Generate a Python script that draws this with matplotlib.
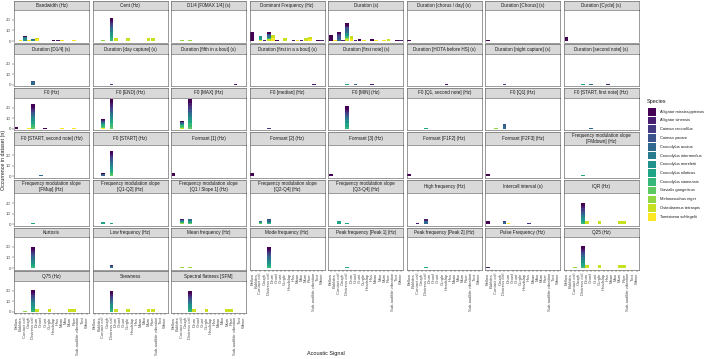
import matplotlib.pyplot as plt
from matplotlib.patches import Rectangle
import numpy as np

plt.rcParams['font.family'] = ['Liberation Sans', 'DejaVu Sans']

species = ['Alligator mississippiensis', 'Alligator sinensis', 'Caiman crocodilus',
           'Caiman yacare', 'Crocodylus acutus', 'Crocodylus intermedius',
           'Crocodylus moreletii', 'Crocodylus niloticus', 'Crocodylus siamensis',
           'Gavialis gangeticus', 'Melanosuchus niger', 'Osteolaemus tetraspis',
           'Tomistoma schlegelii']

signals = ['Bellow', 'Bubbles', 'Contact call', 'Cough', 'Distress call', 'Drum',
           'Growl', 'Grunt', 'Gurgle', 'Headslap', 'Hiss', 'Moan', 'Moo', 'Mum',
           'Roar', 'Sub-audible vibration', 'Toot', 'Whine']

facets = ['Bandwidth (Hz)', 'Cent (Hz)', 'D1/4 [F0MAX 1/4] (s)', 'Dominant Frequency (Hz)',
          'Duration (s)', 'Duration [chorus / day] (s)', 'Duration [Chorus] (s)',
          'Duration [Cycle] (s)', 'Duration [D1/4] (s)', 'Duration [day capture] (s)',
          'Duration [fifth in a bout] (s)', 'Duration [first in a a bout] (s)',
          'Duration [first note] (s)', 'Duration [HOTA before HS] (s)',
          'Duration [night capture] (s)', 'Duration [second note] (s)',
          'F0 (Hz)', 'F0 [END] (Hz)', 'F0 [MAX] (Hz)', 'F0 [median] (Hz)', 'F0 [MIN] (Hz)',
          'F0 [Q1, second note] (Hz)', 'F0 [Q1] (Hz)', 'F0 [START, first note] (Hz)',
          'F0 [START, second note] (Hz)', 'F0 [START] (Hz)', 'Formant [1] (Hz)',
          'Formant [2] (Hz)', 'Formant [3] (Hz)', 'Formant [F1F2] (Hz)', 'Formant [F2F3] (Hz)',
          'Frequency modulation slope\n[FMdown] (Hz)', 'Frequency modulation slope\n[FMup] (Hz)',
          'Frequency modulation slope\n[Q1-Q2] (Hz)', 'Frequency modulation slope\n[Q1 / Slope 1] (Hz)',
          'Frequency modulation slope\n[Q2-Q4] (Hz)', 'Frequency modulation slope\n[Q3-Q4] (Hz)',
          'High frequency (Hz)', 'Intercall interval (s)', 'IQR (Hz)', 'Kurtosis',
          'Low frequency (Hz)', 'Mean frequency (Hz)', 'Mode frequency (Hz)',
          'Peak frequency [Peak 1] (Hz)', 'Peak frequency [Peak 2] (Hz)',
          'Pulse Frequency (Hz)', 'Q25 (Hz)', 'Q75 (Hz)', 'Skewness', 'Spectral flatness [SFM]']

# (facet index, signal index, species index, count)
bars = [
    # Bandwidth
    (0, 1, 12, 1), (0, 2, 0, 1), (0, 2, 5, 1), (0, 2, 6, 3), (0, 3, 12, 1), (0, 4, 4, 1),
    (0, 4, 6, 1), (0, 5, 11, 1), (0, 5, 12, 2), (0, 9, 0, 1), (0, 10, 1, 1), (0, 11, 12, 1),
    (0, 14, 12, 1),
    # Cent
    (1, 2, 10, 1), (1, 4, 0, 3), (1, 4, 1, 2), (1, 4, 2, 2), (1, 4, 3, 2), (1, 4, 4, 2),
    (1, 4, 5, 2), (1, 4, 6, 3), (1, 4, 7, 3), (1, 4, 8, 3), (1, 5, 11, 3), (1, 8, 11, 3),
    (1, 13, 11, 3), (1, 14, 11, 3),
    # D1/4
    (2, 2, 10, 1), (2, 4, 10, 1),
    # Dominant Frequency
    (3, 0, 0, 9), (3, 2, 6, 2), (3, 2, 7, 2), (3, 2, 11, 1), (3, 3, 1, 1), (3, 4, 0, 2),
    (3, 4, 3, 2), (3, 4, 5, 2), (3, 4, 8, 1), (3, 4, 11, 2), (3, 5, 11, 3), (3, 5, 12, 3),
    (3, 6, 0, 1), (3, 8, 11, 3), (3, 10, 1, 1), (3, 11, 12, 1), (3, 12, 1, 1), (3, 13, 11, 3),
    (3, 14, 11, 2), (3, 14, 12, 2), (3, 16, 0, 1), (3, 17, 1, 1),
    # Duration
    (4, 0, 0, 6), (4, 1, 12, 1), (4, 2, 0, 2), (4, 2, 2, 2), (4, 2, 3, 3), (4, 2, 4, 2),
    (4, 3, 1, 1), (4, 4, 0, 3), (4, 4, 1, 1), (4, 4, 3, 3), (4, 4, 4, 2), (4, 4, 6, 3),
    (4, 4, 8, 2), (4, 4, 10, 1), (4, 4, 11, 2), (4, 5, 11, 3), (4, 5, 12, 2), (4, 6, 1, 1),
    (4, 7, 0, 2), (4, 8, 12, 1), (4, 10, 0, 2), (4, 11, 12, 1), (4, 13, 12, 1), (4, 14, 11, 2),
    (4, 16, 0, 1), (4, 17, 1, 1),
    # Duration [chorus / day], [Chorus], [Cycle]
    (5, 0, 0, 1), (6, 0, 0, 1), (7, 0, 0, 4),
    # Duration [D1/4] ... [second note]
    (8, 4, 3, 1), (8, 4, 4, 3), (9, 4, 2, 1), (10, 15, 1, 1), (11, 15, 1, 1),
    (12, 4, 7, 1), (12, 6, 4, 1), (12, 10, 1, 1), (13, 9, 1, 1), (14, 4, 2, 1),
    (15, 4, 7, 1), (15, 6, 4, 1), (15, 10, 1, 1),
    # F0
    (16, 0, 0, 2), (16, 3, 12, 1), (16, 4, 0, 3), (16, 4, 1, 2), (16, 4, 2, 2), (16, 4, 3, 2),
    (16, 4, 4, 2), (16, 4, 5, 2), (16, 4, 6, 3), (16, 4, 7, 3), (16, 4, 8, 2), (16, 4, 9, 2),
    (16, 7, 0, 1), (16, 11, 12, 1), (16, 14, 12, 1),
    # F0 [END]
    (17, 2, 0, 1), (17, 2, 1, 1), (17, 2, 3, 1), (17, 2, 4, 1), (17, 2, 6, 1), (17, 2, 7, 1),
    (17, 2, 8, 1), (17, 2, 9, 1), (17, 2, 12, 1),
    (17, 4, 0, 4), (17, 4, 1, 3), (17, 4, 2, 2), (17, 4, 3, 3), (17, 4, 4, 2), (17, 4, 5, 3),
    (17, 4, 6, 3), (17, 4, 7, 3), (17, 4, 8, 3), (17, 4, 9, 2),
    # F0 [MAX]
    (18, 2, 0, 1), (18, 2, 3, 1), (18, 2, 4, 1), (18, 2, 6, 1), (18, 2, 8, 1), (18, 2, 9, 1),
    (18, 2, 11, 1),
    (18, 4, 0, 4), (18, 4, 1, 3), (18, 4, 2, 2), (18, 4, 3, 3), (18, 4, 4, 2), (18, 4, 5, 3),
    (18, 4, 6, 3), (18, 4, 7, 3), (18, 4, 8, 3), (18, 4, 9, 2),
    # F0 [median], [MIN]
    (19, 4, 2, 1),
    (20, 4, 0, 3), (20, 4, 1, 2), (20, 4, 2, 2), (20, 4, 3, 2), (20, 4, 4, 2), (20, 4, 5, 2),
    (20, 4, 6, 3), (20, 4, 7, 3), (20, 4, 8, 2),
    # F0 [Q1, second note], [Q1], [START, first note], [START, second note]
    (21, 4, 7, 1), (22, 2, 10, 1), (22, 4, 3, 1), (22, 4, 4, 3), (23, 6, 4, 1), (24, 6, 4, 1),
    # F0 [START]
    (25, 2, 0, 1), (25, 2, 3, 1), (25, 2, 4, 1),
    (25, 4, 0, 3), (25, 4, 1, 2), (25, 4, 2, 2), (25, 4, 3, 2), (25, 4, 4, 2), (25, 4, 5, 3),
    (25, 4, 6, 3), (25, 4, 7, 3), (25, 4, 8, 2), (25, 4, 9, 2),
    # Formants
    (26, 0, 0, 3), (27, 0, 0, 3), (28, 0, 0, 2), (29, 0, 0, 2), (30, 0, 0, 2),
    # Frequency modulation slopes
    (31, 4, 7, 1), (32, 4, 7, 1), (33, 2, 7, 2), (33, 4, 7, 1),
    (34, 2, 1, 1), (34, 2, 4, 1), (34, 2, 6, 1), (34, 2, 8, 1), (34, 2, 10, 1),
    (34, 4, 4, 1), (34, 4, 5, 1), (34, 4, 7, 2), (34, 4, 9, 1),
    (35, 2, 4, 1), (35, 2, 7, 1), (35, 2, 9, 1), (35, 4, 3, 1), (35, 4, 4, 2), (35, 4, 6, 1),
    (35, 4, 8, 1),
    (36, 2, 7, 3), (36, 4, 7, 1),
    # High frequency, Intercall interval
    (37, 2, 1, 1), (37, 4, 1, 2), (37, 4, 4, 3),
    (38, 0, 0, 3), (38, 4, 2, 1), (38, 4, 4, 2), (38, 5, 12, 1), (38, 10, 2, 1),
    # IQR
    (39, 4, 0, 3), (39, 4, 1, 2), (39, 4, 2, 2), (39, 4, 3, 2), (39, 4, 4, 2), (39, 4, 5, 2),
    (39, 4, 6, 3), (39, 4, 7, 2), (39, 4, 8, 2), (39, 5, 11, 3), (39, 8, 11, 3),
    (39, 13, 11, 3), (39, 14, 11, 3),
    # Kurtosis
    (40, 4, 0, 3), (40, 4, 1, 2), (40, 4, 2, 2), (40, 4, 3, 2), (40, 4, 4, 2), (40, 4, 5, 2),
    (40, 4, 6, 3), (40, 4, 7, 2), (40, 4, 8, 2),
    # Low frequency, Mean frequency
    (41, 4, 1, 1), (41, 4, 4, 2), (42, 2, 10, 1), (42, 4, 10, 1),
    # Mode frequency
    (43, 4, 0, 3), (43, 4, 1, 2), (43, 4, 2, 2), (43, 4, 3, 2), (43, 4, 4, 2), (43, 4, 5, 2),
    (43, 4, 6, 3), (43, 4, 7, 2), (43, 4, 8, 2),
    # Peak frequencies, Pulse frequency
    (44, 4, 7, 1), (45, 4, 7, 1), (46, 0, 1, 1),
    # Q25
    (47, 2, 10, 1), (47, 4, 0, 3), (47, 4, 1, 2), (47, 4, 2, 2), (47, 4, 3, 2), (47, 4, 4, 2),
    (47, 4, 5, 2), (47, 4, 6, 3), (47, 4, 7, 3), (47, 4, 8, 2), (47, 5, 11, 3), (47, 8, 11, 3),
    (47, 13, 11, 3), (47, 14, 11, 3),
    # Q75
    (48, 2, 10, 1), (48, 4, 0, 3), (48, 4, 1, 2), (48, 4, 2, 2), (48, 4, 3, 2), (48, 4, 4, 2),
    (48, 4, 5, 2), (48, 4, 6, 3), (48, 4, 7, 3), (48, 4, 8, 2), (48, 5, 11, 3), (48, 8, 11, 3),
    (48, 13, 11, 3), (48, 14, 11, 3),
    # Skewness
    (49, 4, 0, 3), (49, 4, 1, 2), (49, 4, 2, 2), (49, 4, 3, 2), (49, 4, 4, 2), (49, 4, 5, 2),
    (49, 4, 6, 3), (49, 4, 7, 2), (49, 4, 8, 2), (49, 5, 11, 3), (49, 8, 11, 3),
    (49, 13, 11, 3), (49, 14, 11, 3),
    # Spectral flatness
    (50, 4, 0, 3), (50, 4, 1, 2), (50, 4, 2, 2), (50, 4, 3, 2), (50, 4, 4, 2), (50, 4, 5, 2),
    (50, 4, 6, 3), (50, 4, 7, 2), (50, 4, 8, 2), (50, 5, 11, 3), (50, 8, 11, 3),
    (50, 13, 11, 3), (50, 14, 11, 3),
]

W, H = 709, 359
fig = plt.figure(figsize=(W / 100, H / 100), dpi=100)


def box(x, y, w, h):
    # pixel box (top-left origin) -> figure fraction
    return [x / W, 1 - (y + h) / H, w / W, h / H]


colors = plt.cm.viridis(np.linspace(0, 1, len(species)))
edge = '#4d4d4d'

ncol = 8
nrow = (len(facets) + ncol - 1) // ncol
left, pw, gap_x = 14, 75, 3.57
top, strip1, strip2, ph, gap_y = 0.5, 9.5, 13.5, 32.5, 1.8
ymax = 28
n_sig = len(signals)

counts = np.zeros((len(facets), n_sig, len(species)))
for f, s, sp, n in bars:
    counts[f, s, sp] += n

y = top
for r in range(nrow):
    row = list(range(r * ncol, min((r + 1) * ncol, len(facets))))
    sh = strip2 if any('\n' in facets[i] for i in row) else strip1
    for i in row:
        c = i % ncol
        x = left + c * (pw + gap_x)
        # strip
        sax = fig.add_axes(box(x, y, pw, sh))
        sax.set_facecolor('#d9d9d9')
        sax.set_xticks([])
        sax.set_yticks([])
        for sp_ in sax.spines.values():
            sp_.set_color(edge)
            sp_.set_linewidth(0.4)
        sax.text(0.5, 0.5, facets[i], ha='center', va='center', fontsize=3.3,
                 color='#1a1a1a', linespacing=1.1, transform=sax.transAxes)
        # panel
        ax = fig.add_axes(box(x, y + sh, pw, ph))
        xs = np.arange(n_sig)
        bottom = np.zeros(n_sig)
        for k in range(len(species) - 1, -1, -1):
            h = counts[i, :, k]
            if h.sum() > 0:
                ax.bar(xs, h, bottom=bottom, width=0.9, color=colors[k], linewidth=0)
            bottom += h
        ax.set_xlim(-0.6, n_sig - 0.4)
        ax.set_ylim(-0.05 * ymax, 1.05 * ymax)
        for sp_ in ax.spines.values():
            sp_.set_color(edge)
            sp_.set_linewidth(0.4)
        ax.tick_params(length=1.5, width=0.3, color='#333333', pad=0.8,
                       labelsize=3.2, labelcolor='#4d4d4d')
        if c == 0:
            ax.set_yticks([0, 10, 20])
        else:
            ax.tick_params(left=False, labelleft=False)
        last = i + ncol >= len(facets)
        if last:
            ax.set_xticks(xs)
            ax.set_xticklabels(signals, rotation=90, fontsize=3.0)
        else:
            ax.set_xticks([])
    y += sh + ph + gap_y

fig.text(3.2 / W, 1 - 160 / H, 'Occurrence in dataset (n)', rotation=90, ha='center',
         va='center', fontsize=3.8, color='#1a1a1a')
fig.text(326 / W, 1 - 354 / H, 'Acoustic Signal', ha='center', va='center',
         fontsize=4.0, color='#1a1a1a')

# legend
fig.text(647 / W, 1 - 101 / H, 'Species', ha='left', va='center', fontsize=4.0,
         color='#1a1a1a')
for k, name in enumerate(species):
    ky = 108 + k * 8.75
    fig.add_artist(Rectangle((648 / W, 1 - (ky + 7.5) / H), 7.5 / W, 7.5 / H,
                             transform=fig.transFigure, color=colors[k], linewidth=0))
    fig.text(660 / W, 1 - (ky + 3.75) / H, name, ha='left', va='center', fontsize=2.9,
             color='#1a1a1a')

fig.savefig('out.png', dpi=100)
